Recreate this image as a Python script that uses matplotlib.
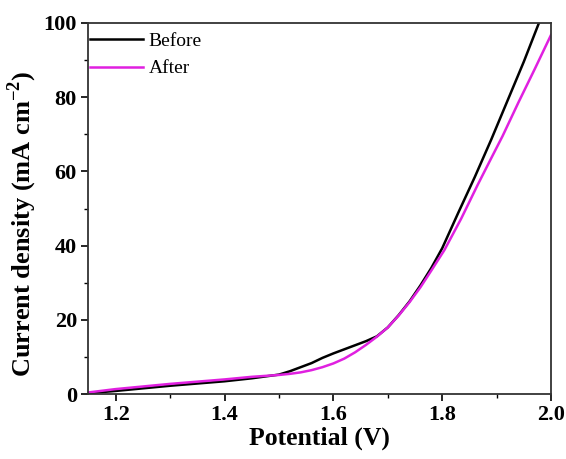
import numpy as np
import matplotlib
matplotlib.use("Agg")
import matplotlib.pyplot as plt
from matplotlib.ticker import MultipleLocator

# LSV curves
v_before = [1.15, 1.20, 1.25, 1.30, 1.35, 1.40, 1.45, 1.48, 1.50, 1.52, 1.54, 1.56,
            1.58, 1.60, 1.62, 1.64, 1.66, 1.68, 1.70, 1.72, 1.74, 1.76, 1.78, 1.80,
            1.83, 1.86, 1.89, 1.92, 1.95, 1.978]
j_before = [0.3, 0.9, 1.6, 2.3, 2.9, 3.5, 4.3, 4.9, 5.3, 6.2, 7.3, 8.4,
            9.8, 11.0, 12.1, 13.2, 14.3, 15.6, 18.0, 21.3, 25.0, 29.3, 34.0, 39.3,
            49.0, 58.5, 68.5, 79.0, 89.5, 100.0]
v_after = [1.15, 1.20, 1.25, 1.30, 1.35, 1.40, 1.45, 1.50, 1.52, 1.54, 1.56, 1.58,
           1.60, 1.62, 1.64, 1.66, 1.68, 1.70, 1.72, 1.74, 1.76, 1.78, 1.804, 1.835,
           1.865, 1.89, 1.911, 1.94, 1.97, 2.0]
j_after = [0.5, 1.4, 2.1, 2.8, 3.4, 4.0, 4.7, 5.2, 5.5, 5.9, 6.5, 7.3,
           8.3, 9.6, 11.3, 13.3, 15.5, 18.0, 21.2, 24.8, 28.8, 33.3, 38.8, 47.3,
           56.3, 63.5, 69.5, 78.5, 87.5, 96.7]

plt.rcParams['font.family'] = ['Liberation Serif', 'DejaVu Serif']
plt.rcParams['mathtext.fontset'] = 'custom'
plt.rcParams['mathtext.rm'] = 'Liberation Serif'
plt.rcParams['mathtext.bf'] = 'Liberation Serif:bold'

fig = plt.figure(figsize=(5.66, 4.59), dpi=100)
ax = fig.add_axes([0.1555, 0.141, 0.818, 0.8095])

ax.plot(v_before, j_before, color='black', lw=1.8, label='Before')
ax.plot(v_after, j_after, color='#e020e0', lw=1.8, label='After')

ax.set_xlim(1.149, 2.0)
ax.set_ylim(0, 100)
ax.xaxis.set_major_locator(MultipleLocator(0.2))
ax.xaxis.set_minor_locator(MultipleLocator(0.1))
ax.yaxis.set_major_locator(MultipleLocator(20))
ax.yaxis.set_minor_locator(MultipleLocator(10))
ax.tick_params(which='major', length=5, width=1.2, labelsize=16, direction='out', pad=3)
ax.tick_params(which='minor', length=3, width=1.0, direction='out')
ax.set_xticks([1.2, 1.4, 1.6, 1.8, 2.0])
ax.set_xticklabels(['1.2', '1.4', '1.6', '1.8', '2.0'])
for lab in ax.get_xticklabels() + ax.get_yticklabels():
    lab.set_fontweight('bold')
for sp in ax.spines.values():
    sp.set_linewidth(1.3)
    sp.set_color('#333333')

ax.set_xlabel('Potential (V)', fontsize=18.5, fontweight='bold', labelpad=1)
ax.set_ylabel(r'Current density (mA cm$^{\mathbf{-2}}$)', fontsize=19, fontweight='bold')
ax.yaxis.set_label_coords(-0.106, 0.46)

ax.legend(loc='upper left', bbox_to_anchor=(0.004, 0.974), frameon=False,
          fontsize=14, handlelength=2.73, handletextpad=0.3, borderaxespad=0,
          labelspacing=0.5, borderpad=0)

fig.savefig('out.png', dpi=100)
